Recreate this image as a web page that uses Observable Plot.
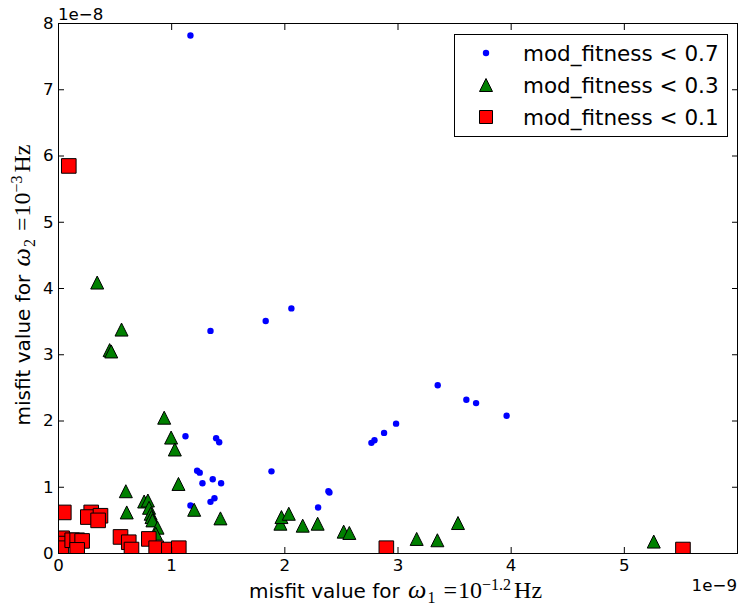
<!DOCTYPE html>
<html><head><meta charset="utf-8">
<script src="https://cdn.jsdelivr.net/npm/d3@7"></script>
<script src="https://cdn.jsdelivr.net/npm/@observablehq/plot@0.6"></script>
<style>body{margin:0;background:#fff;}</style>
</head><body><div id="chart"></div>
<script>
// x in units of 1e-9, y in units of 1e-8
const blueX = [1.166, 2.058, 1.831, 1.343, 1.122, 1.393, 1.420, 1.225, 1.248, 1.882, 1.363, 1.272, 1.437, 2.385, 2.394, 1.378, 1.343, 1.166, 2.294, 2.765, 2.792, 2.877, 2.983, 3.351, 3.604, 3.690, 3.960];
const blueY = [7.82, 3.70, 3.51, 3.36, 1.77, 1.74, 1.68, 1.25, 1.22, 1.24, 1.12, 1.06, 1.06, 0.94, 0.92, 0.835, 0.78, 0.725, 0.694, 1.67, 1.71, 1.82, 1.96, 2.54, 2.32, 2.27, 2.08];
const greenX = [0.342, 0.557, 0.452, 0.466, 0.934, 0.995, 1.028, 1.060, 0.595, 0.603, 0.757, 0.790, 0.800, 0.815, 0.822, 0.830, 0.875, 0.860, 1.199, 1.431, 1.961, 1.970, 2.035, 2.158, 2.290, 2.520, 2.570, 3.165, 3.348, 3.530, 5.260];
const greenY = [4.09, 3.38, 3.07, 3.05, 2.05, 1.75, 1.57, 1.05, 0.94, 0.62, 0.785, 0.80, 0.69, 0.60, 0.55, 0.50, 0.39, 0.30, 0.66, 0.53, 0.45, 0.55, 0.60, 0.42, 0.45, 0.33, 0.31, 0.22, 0.20, 0.46, 0.18];
const redX = [0.091, 0.047, 0.289, 0.259, 0.371, 0.350, 0.032, 0.018, 0.025, 0.121, 0.165, 0.209, 0.165, 0.548, 0.621, 0.645, 0.798, 0.863, 0.975, 1.063, 2.897, 5.518];
const redY = [5.85, 0.62, 0.62, 0.55, 0.57, 0.50, 0.23, 0.15, 0.08, 0.20, 0.20, 0.19, 0.055, 0.25, 0.17, 0.06, 0.22, 0.08, 0.06, 0.08, 0.08, 0.06];
const xTicks = [0, 1, 2, 3, 4, 5];
const yTicks = [0, 1, 2, 3, 4, 5, 6, 7, 8];
const seriesLabels = ["mod_fitness < 0.7", "mod_fitness < 0.3", "mod_fitness < 0.1"];
const xOffsetLabel = "1e\u22129";
const yOffsetLabel = "1e\u22128";

const toPts = (xs, ys) => xs.map((x, i) => ({x, y: ys[i]}));
const blue = toPts(blueX, blueY), green = toPts(greenX, greenY), red = toPts(redX, redY);

const triangleUp = {draw(ctx, size) { const r = Math.sqrt(size / Math.PI); ctx.moveTo(0, -r); ctx.lineTo(r, r); ctx.lineTo(-r, r); ctx.closePath(); }};
const squareSym = {draw(ctx, size) { const r = Math.sqrt(size / Math.PI); ctx.rect(-r, -r, 2 * r, 2 * r); }};
const noText = () => "";

const plot = Plot.plot({
  width: 740, height: 608,
  marginLeft: 58, marginRight: 3, marginTop: 23, marginBottom: 55,
  style: {fontFamily: "DejaVu Sans", fontSize: "16.67px", color: "black", background: "white"},
  x: {domain: [0, 6]},
  y: {domain: [0, 8]},
  marks: [
    Plot.dot(blue, {x: "x", y: "y", r: 3.2, fill: "#0000ff", stroke: "none", clip: true}),
    Plot.dot(green, {x: "x", y: "y", r: 6.5, symbol: triangleUp, fill: "#008000", stroke: "black", strokeWidth: 1, clip: true}),
    Plot.dot(red, {x: "x", y: "y", r: 7.3, symbol: squareSym, fill: "#ff0000", stroke: "black", strokeWidth: 1, clip: true}),
    // tick labels
    Plot.axisX(xTicks, {anchor: "bottom", tickSize: 0, tickPadding: 6, label: null, tickFormat: d => String(d)}),
    Plot.axisY(yTicks, {anchor: "left", tickSize: 0, tickPadding: 5, label: null, tickFormat: d => String(d)}),
    // inward ticks on all four sides
    Plot.axisX(xTicks, {anchor: "bottom", tickSize: 6, dy: -6, label: null, tickFormat: noText}),
    Plot.axisX(xTicks, {anchor: "top", tickSize: 6, dy: 6, label: null, tickFormat: noText}),
    Plot.axisY(yTicks, {anchor: "left", tickSize: 6, dx: 6, label: null, tickFormat: noText}),
    Plot.axisY(yTicks, {anchor: "right", tickSize: 6, dx: -6, label: null, tickFormat: noText}),
    Plot.frame({stroke: "black", strokeWidth: 1})
  ]
});

const svg = d3.select(plot);
// offset texts
svg.append("text").attr("x", 58).attr("y", 20).attr("text-anchor", "start").attr("font-size", "16.67px").attr("fill", "black").text(yOffsetLabel);
svg.append("text").attr("x", 737).attr("y", 591).attr("text-anchor", "end").attr("font-size", "16.67px").attr("fill", "black").text(xOffsetLabel);

// axis labels with math
function mathLabel(sel, sub, exp) {
  sel.append("tspan").attr("font-family", "DejaVu Sans").attr("font-size", "20px").text("misfit value for ");
  sel.append("tspan").attr("font-family", "Liberation Serif").attr("font-style", "italic").attr("font-size", "26px").attr("dx", 2).text("\u03c9");
  sel.append("tspan").attr("font-family", "Liberation Serif").attr("font-size", "16px").attr("dy", 5).attr("dx", 1).text(sub);
  sel.append("tspan").attr("font-family", "Liberation Serif").attr("font-size", "24px").attr("dy", -5).attr("dx", 8).text("=");
  sel.append("tspan").attr("font-family", "Liberation Serif").attr("font-size", "24px").attr("dx", 1).text("10");
  sel.append("tspan").attr("font-family", "Liberation Serif").attr("font-size", "16px").attr("dy", -8).text(exp);
  sel.append("tspan").attr("font-family", "Liberation Serif").attr("font-size", "24px").attr("dy", 8).attr("dx", 3).text("Hz");
}
const xl = svg.append("text").attr("x", 249).attr("y", 598).attr("text-anchor", "start").attr("fill", "black");
mathLabel(xl, "1", "\u22121.2");
const yl = svg.append("text").attr("transform", "translate(30,285) rotate(-90)").attr("text-anchor", "middle").attr("fill", "black");
mathLabel(yl, "2", "\u22123");

// legend
const lg = svg.append("g").attr("text-anchor", "start");
lg.append("rect").attr("x", 454.5).attr("y", 34.5).attr("width", 273).attr("height", 102).attr("fill", "white").attr("stroke", "black").attr("stroke-width", 1);
const rows = [53, 85, 117];
lg.append("circle").attr("cx", 486).attr("cy", rows[0]).attr("r", 3.2).attr("fill", "#0000ff");
lg.append("path").attr("transform", `translate(486,${rows[1]})`).attr("d", d3.symbol(triangleUp, Math.PI * 6.5 * 6.5)()).attr("fill", "#008000").attr("stroke", "black");
lg.append("path").attr("transform", `translate(486,${rows[2]})`).attr("d", d3.symbol(squareSym, Math.PI * 6.5 * 6.5)()).attr("fill", "#ff0000").attr("stroke", "black");
seriesLabels.forEach((t, i) => {
  lg.append("text").attr("x", 523).attr("y", rows[i] + 8).attr("text-anchor", "start").attr("font-size", "21.5px").attr("font-family", "DejaVu Sans").attr("fill", "black").text(t);
});

document.getElementById("chart").appendChild(plot);
</script>
</body></html>
